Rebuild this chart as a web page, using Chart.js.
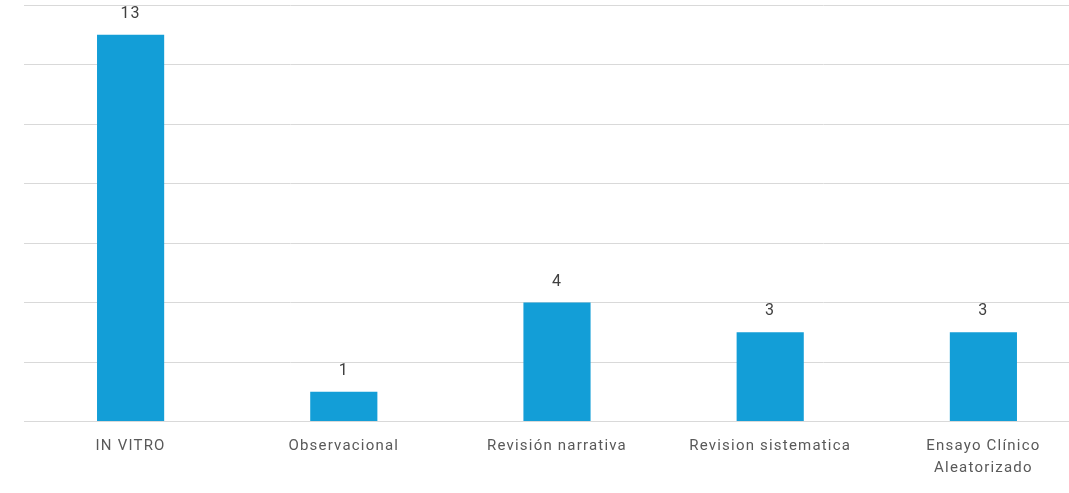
<!DOCTYPE html>
<html>
<head>
<meta charset="utf-8">
<script src="https://cdn.jsdelivr.net/npm/chart.js@4/dist/chart.umd.min.js"></script>
<style>
  html, body { margin: 0; padding: 0; background: #ffffff; overflow: hidden; }
  #wrap { position: relative; width: 1090px; height: 493px; }
</style>
</head>
<body>
<div id="wrap"><canvas id="c"></canvas></div>
<script>
// Study types and number of articles per type
const categories = ['IN VITRO', 'Observacional', 'Revisión narrativa', 'Revision sistematica', ['Ensayo Clínico', 'Aleatorizado']];
const counts = [13, 1, 4, 3, 3];
const yTicks = [0, 2, 4, 6, 8, 10, 12, 14];

const SPACING = '1.2px';

// Keeps the slightly tracked-out lettering for every text draw and measurement
const tracking = {
  id: 'tracking',
  beforeLayout(chart) { chart.ctx.letterSpacing = SPACING; },
  beforeDraw(chart) { chart.ctx.letterSpacing = SPACING; }
};

// Draws each bar's value centred above it
const valueLabels = {
  id: 'valueLabels',
  afterDatasetsDraw(chart) {
    const ctx = chart.ctx;
    const meta = chart.getDatasetMeta(0);
    ctx.save();
    ctx.letterSpacing = SPACING;
    ctx.font = '16px Roboto';
    ctx.fillStyle = '#404040';
    ctx.textAlign = 'center';
    ctx.textBaseline = 'bottom';
    meta.data.forEach((bar, i) => {
      ctx.fillText(String(chart.data.datasets[0].data[i]), bar.x, bar.y - 13);
    });
    ctx.restore();
  }
};

new Chart(document.getElementById('c'), {
  type: 'bar',
  data: {
    labels: categories,
    datasets: [{
      data: counts,
      backgroundColor: '#139ED7',
      borderWidth: 0,
      barPercentage: 0.315,
      categoryPercentage: 1
    }]
  },
  options: {
    responsive: true,
    maintainAspectRatio: false,
    animation: false,
    layout: { padding: { left: 24, right: 0, top: 5, bottom: 0 } },
    plugins: { legend: { display: false }, tooltip: { enabled: false } },
    scales: {
      x: {
        grid: { display: false, drawTicks: false },
        border: { display: true, color: '#d9d9d9', width: 1 },
        ticks: {
          color: '#595959',
          font: { family: 'Roboto', size: 15, lineHeight: 1.45 },
          padding: 14,
          maxRotation: 0,
          autoSkip: false
        }
      },
      y: {
        min: 0,
        max: 14,
        afterBuildTicks(axis) { axis.ticks = yTicks.map(v => ({ value: v })); },
        grid: { color: '#d9d9d9', drawTicks: false },
        border: { display: false },
        ticks: { display: false }
      }
    }
  },
  plugins: [tracking, valueLabels]
});
</script>
</body>
</html>
